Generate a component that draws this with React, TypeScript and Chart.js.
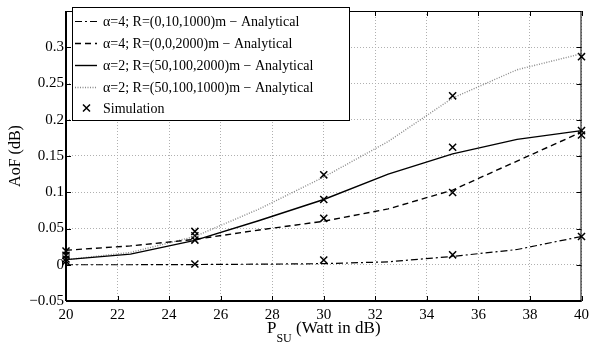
import React, { useEffect, useRef } from "react";
import { Chart, registerables } from "chart.js";

Chart.register(...registerables);

const xSamples = [20, 22.5, 25, 27.5, 30, 32.5, 35, 37.5, 40];
const alpha4R0101000 = [0, 0, 0.0003, 0.0008, 0.0015, 0.004, 0.0115, 0.021, 0.039];
const alpha4R002000 = [0.02, 0.026, 0.035, 0.048, 0.06, 0.077, 0.103, 0.143, 0.183];
const alpha2R501002000 = [0.007, 0.0146, 0.0336, 0.061, 0.09, 0.125, 0.153, 0.173, 0.185];
const alpha2R501001000 = [0.007, 0.017, 0.039, 0.077, 0.121, 0.17, 0.23, 0.269, 0.291];
const simX = [20, 20, 20, 20, 25, 25, 25, 25, 30, 30, 30, 30, 35, 35, 35, 35, 40, 40, 40, 40];
const simY = [0.019, 0.013, 0.008, 0.005, 0.046, 0.04, 0.034, 0.001, 0.124, 0.09, 0.064, 0.0066, 0.233, 0.162, 0.0997, 0.0137, 0.287, 0.185, 0.179, 0.039];
const seriesLabels = [
  "α=4; R=(0,10,1000)m − Analytical",
  "α=4; R=(0,0,2000)m − Analytical",
  "α=2; R=(50,100,2000)m − Analytical",
  "α=2; R=(50,100,1000)m − Analytical",
  "Simulation",
];
const xTicks = [20, 22, 24, 26, 28, 30, 32, 34, 36, 38, 40];
const yTicks = [-0.05, 0, 0.05, 0.1, 0.15, 0.2, 0.25, 0.3, 0.35];
const xTitleMain = "P";
const xTitleSub = "SU";
const xTitleRest = " (Watt in dB)";
const yTitle = "AoF (dB)";

const FONT = "'Liberation Serif', 'Times New Roman', serif";

const decoPlugin = {
  id: "deco",
  afterDatasetsDraw(chart: any) {
    const ctx = chart.ctx;
    const { left, right, top, bottom } = chart.chartArea;
    const xs = chart.scales.x;
    const ys = chart.scales.y;
    ctx.save();
    // frame
    ctx.strokeStyle = "#000";
    ctx.lineWidth = 1;
    ctx.setLineDash([]);
    ctx.strokeRect(left + 0.5, top + 0.5, right - left - 1, bottom - top - 1);
    ctx.beginPath();
    ctx.lineWidth = 2;
    ctx.moveTo(left, bottom);
    ctx.lineTo(left, top);
    ctx.moveTo(left, bottom);
    ctx.lineTo(right, bottom);
    ctx.stroke();
    // inward ticks
    ctx.lineWidth = 1;
    ctx.beginPath();
    xTicks.forEach((t) => {
      const px = Math.round(xs.getPixelForValue(t)) + 0.5;
      ctx.moveTo(px, bottom);
      ctx.lineTo(px, bottom - 5);
      ctx.moveTo(px, top);
      ctx.lineTo(px, top + 5);
    });
    yTicks.forEach((t) => {
      const py = Math.round(ys.getPixelForValue(t)) + 0.5;
      ctx.moveTo(left, py);
      ctx.lineTo(left + 5, py);
      ctx.moveTo(right, py);
      ctx.lineTo(right - 5, py);
    });
    ctx.stroke();

    // legend
    const bx = 72, by = 7, bw = 277, bh = 113;
    ctx.fillStyle = "#fff";
    ctx.fillRect(bx, by, bw, bh);
    ctx.strokeStyle = "#000";
    ctx.lineWidth = 1;
    ctx.strokeRect(bx + 0.5, by + 0.5, bw, bh);
    ctx.font = `14px ${FONT}`;
    ctx.textBaseline = "middle";
    ctx.textAlign = "left";
    const rows = [21, 43, 65, 87, 108];
    chart.data.datasets.forEach((ds: any, i: number) => {
      const y = rows[i];
      if (i < 4) {
        ctx.strokeStyle = ds.borderColor;
        ctx.lineWidth = ds.borderWidth;
        ctx.setLineDash(ds.borderDash || []);
        ctx.beginPath();
        ctx.moveTo(75, y + 0.5);
        ctx.lineTo(97, y + 0.5);
        ctx.stroke();
        ctx.setLineDash([]);
      } else {
        ctx.strokeStyle = "#000";
        ctx.lineWidth = 1.5;
        ctx.beginPath();
        ctx.moveTo(83, y - 3.5);
        ctx.lineTo(90, y + 3.5);
        ctx.moveTo(90, y - 3.5);
        ctx.lineTo(83, y + 3.5);
        ctx.stroke();
      }
      ctx.fillStyle = "#000";
      ctx.fillText(seriesLabels[i], 103, y + 1);
    });

    // x title
    ctx.fillStyle = "#000";
    ctx.textBaseline = "alphabetic";
    ctx.font = `17px ${FONT}`;
    const wP = ctx.measureText(xTitleMain).width;
    const wRest = ctx.measureText(xTitleRest).width;
    ctx.font = `12px ${FONT}`;
    const wSub = ctx.measureText(xTitleSub).width;
    const total = wP + wSub + wRest;
    let sx = (left + right) / 2 - total / 2;
    ctx.font = `17px ${FONT}`;
    ctx.fillText(xTitleMain, sx, 333);
    sx += wP;
    ctx.font = `12px ${FONT}`;
    ctx.fillText(xTitleSub, sx, 342);
    sx += wSub;
    ctx.font = `17px ${FONT}`;
    ctx.fillText(xTitleRest, sx, 333);

    // y title
    ctx.save();
    ctx.translate(16, (top + bottom) / 2);
    ctx.rotate(-Math.PI / 2);
    ctx.textAlign = "center";
    ctx.textBaseline = "middle";
    ctx.font = `16px ${FONT}`;
    ctx.fillText(yTitle, 0, 0);
    ctx.restore();

    ctx.restore();
  },
};

function pts(ys: number[]) {
  return xSamples.map((x, i) => ({ x, y: ys[i] }));
}

export default function App() {
  const ref = useRef<HTMLCanvasElement | null>(null);
  useEffect(() => {
    if (!ref.current) return;
    const lineDs = (data: number[], dash: number[], color: string, width: number) => ({
      type: "line" as const,
      data: pts(data),
      borderColor: color,
      borderWidth: width,
      borderDash: dash,
      pointRadius: 0,
      fill: false,
      tension: 0,
    });
    const chart = new Chart(ref.current, {
      type: "scatter",
      data: {
        datasets: [
          lineDs(alpha4R0101000, [7, 3, 2, 3], "#000", 1.2),
          lineDs(alpha4R002000, [6, 4], "#000", 1.4),
          lineDs(alpha2R501002000, [], "#000", 1.4),
          lineDs(alpha2R501001000, [1, 1.5], "#8a8a8a", 1.4),
          {
            type: "scatter" as const,
            data: simX.map((x, i) => ({ x, y: simY[i] })),
            pointStyle: "crossRot",
            pointRadius: 5,
            borderColor: "#000",
            backgroundColor: "#000",
            borderWidth: 1.5,
            clip: false,
          } as any,
        ],
      },
      options: {
        animation: false,
        responsive: false,
        devicePixelRatio: 1,
        layout: { padding: { left: 0, top: 2, right: 7, bottom: 0 } },
        plugins: { legend: { display: false }, tooltip: { enabled: false } },
        scales: {
          x: {
            type: "linear",
            min: 20,
            max: 40,
            afterFit: (s: any) => {
              s.height = 46;
            },
            afterBuildTicks: (s: any) => {
              s.ticks = xTicks.map((v) => ({ value: v }));
            },
            grid: { color: "#b0b0b0", drawTicks: false, lineWidth: 1 },
            border: { display: false, dash: [1, 2] },
            ticks: {
              padding: 5,
              color: "#000",
              font: { family: FONT, size: 15 },
              maxRotation: 0,
              callback: (v: any) => String(v),
            },
          },
          y: {
            type: "linear",
            min: -0.05,
            max: 0.35,
            afterFit: (s: any) => {
              s.width = 66;
            },
            afterBuildTicks: (s: any) => {
              s.ticks = yTicks.map((v) => ({ value: v }));
            },
            grid: { color: "#b0b0b0", drawTicks: false, lineWidth: 1 },
            border: { display: false, dash: [1, 2] },
            ticks: {
              padding: 2,
              color: "#000",
              font: { family: FONT, size: 15 },
              callback: (v: any) => {
                const n = Number(Number(v).toFixed(2));
                if (Math.abs(n - 0.35) < 1e-6) return "";
                return n < 0 ? "−" + String(Math.abs(n)) : String(n);
              },
            },
          },
        },
      },
      plugins: [decoPlugin],
    });
    return () => chart.destroy();
  }, []);
  return (
    <div style={{ position: "fixed", left: 0, top: 0, width: 594, height: 347, background: "#fff" }}>
      <canvas ref={ref} width={594} height={347} style={{ width: 594, height: 347 }} />
    </div>
  );
}
